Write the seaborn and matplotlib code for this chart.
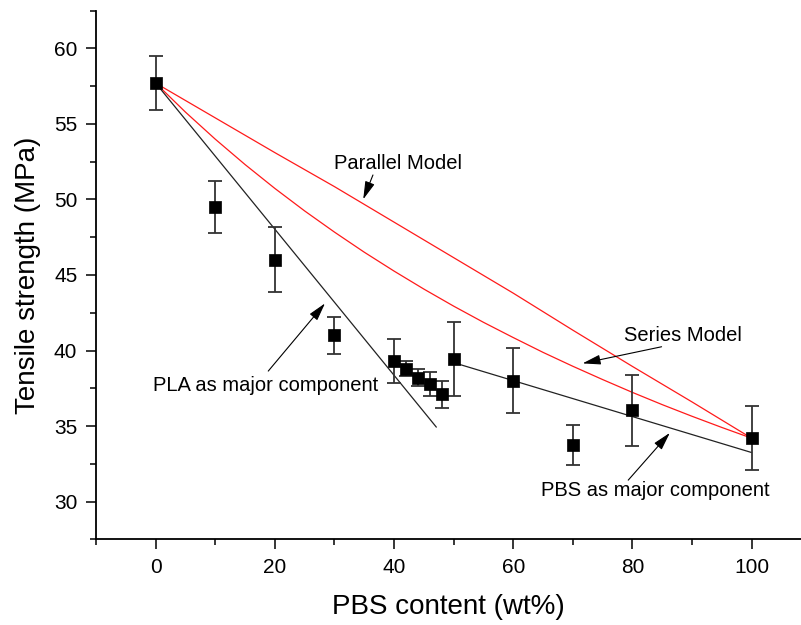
import matplotlib
matplotlib.use("Agg")
import matplotlib.pyplot as plt
import seaborn as sns
import pandas as pd

# ---- data ----
pbs_content = [0, 10, 20, 30, 40, 42, 44, 46, 48, 50, 60, 70, 80, 100]
tensile = [57.7, 49.5, 46.0, 41.0, 39.3, 38.8, 38.2, 37.8, 37.1, 39.45, 38.0, 33.75, 36.05, 34.2]
tensile_err = [1.8, 1.7, 2.15, 1.25, 1.45, 0.5, 0.55, 0.8, 0.9, 2.45, 2.15, 1.3, 2.35, 2.1]

parallel_x = [0, 10, 20, 30, 40, 50, 60, 70, 80, 90, 100]
parallel_y = [57.7, 55.4, 53.1, 50.85, 48.5, 46.15, 43.8, 41.35, 38.95, 36.6, 34.2]

series_x = [0, 5, 10, 15, 20, 25, 30, 35, 40, 45, 50, 55, 60, 65, 70, 75, 80, 85, 90, 95, 100]
series_y = [57.7, 55.78, 53.99, 52.31, 50.73, 49.24, 47.84, 46.51, 45.26, 44.07, 42.94,
            41.87, 40.86, 39.88, 38.96, 38.08, 37.23, 36.42, 35.65, 34.91, 34.2]

pla_major_x = [0, 47.1]
pla_major_y = [57.7, 34.93]
pbs_major_x = [50, 100]
pbs_major_y = [39.2, 33.25]

x_ticks = [0, 20, 40, 60, 80, 100]
y_ticks = [30, 35, 40, 45, 50, 55, 60]

sns.set_style("ticks")
plt.rcParams['font.family'] = ['Liberation Sans', 'DejaVu Sans']
plt.rcParams['text.color'] = 'black'
plt.rcParams['axes.labelcolor'] = 'black'
plt.rcParams['xtick.color'] = 'black'
plt.rcParams['ytick.color'] = 'black'

fig = plt.figure(figsize=(8.01, 6.25), dpi=100)
ax = fig.add_axes([0.12, 0.137, 0.88, 0.846])

df_par = pd.DataFrame({"x": parallel_x, "y": parallel_y})
df_ser = pd.DataFrame({"x": series_x, "y": series_y})
df_pla = pd.DataFrame({"x": pla_major_x, "y": pla_major_y})
df_pbs = pd.DataFrame({"x": pbs_major_x, "y": pbs_major_y})
df_pts = pd.DataFrame({"x": pbs_content, "y": tensile, "e": tensile_err})

sns.lineplot(data=df_par, x="x", y="y", ax=ax, color="#ff1a1a", lw=0.9, sort=False, estimator=None)
sns.lineplot(data=df_ser, x="x", y="y", ax=ax, color="#ff1a1a", lw=0.9, sort=False, estimator=None)
sns.lineplot(data=df_pla, x="x", y="y", ax=ax, color="#222222", lw=0.9, sort=False, estimator=None)
sns.lineplot(data=df_pbs, x="x", y="y", ax=ax, color="#222222", lw=0.9, sort=False, estimator=None)

ax.errorbar(df_pts["x"], df_pts["y"], yerr=df_pts["e"], fmt="none", ecolor="#333333",
            elinewidth=1.3, capsize=5, capthick=1.3, zorder=3)
sns.scatterplot(data=df_pts, x="x", y="y", ax=ax, marker="s", s=75, color="black",
                edgecolor="black", linewidth=0.5, zorder=4)

ax.set_xlim(-10, 108.3)
ax.set_ylim(27.5, 62.5)
ax.set_xticks(x_ticks)
ax.set_yticks(y_ticks)
ax.set_xticks([-10, 10, 30, 50, 70, 90], minor=True)
ax.set_yticks([27.5, 32.5, 37.5, 42.5, 47.5, 52.5, 57.5, 62.5], minor=True)
ax.tick_params(axis="both", which="major", length=7.5, width=1.1, labelsize=15, pad=6,
               color="black", labelcolor="black")
ax.tick_params(axis="both", which="minor", length=4.3, width=1.1, color="black")
for s in ["left", "bottom"]:
    ax.spines[s].set_linewidth(1.3)
    ax.spines[s].set_color("black")
sns.despine(ax=ax)

ax.set_xlabel("PBS content (wt%)", fontsize=20, labelpad=12, color="black")
ax.set_ylabel("Tensile strength (MPa)", fontsize=20, labelpad=9, color="black")

# annotations
fs = 14.5
ax.text(40.65, 52.41, "Parallel Model", fontsize=fs, ha="center", va="center", color="black")
ax.text(88.56, 41.02, "Series Model", fontsize=fs, ha="center", va="center", color="black")
ax.text(18.42, 37.71, "PLA as major component", fontsize=fs, ha="center", va="center", color="black")
ax.text(83.83, 30.76, "PBS as major component", fontsize=fs, ha="center", va="center", color="black")

arrow = dict(arrowstyle="-|>,head_length=1.1,head_width=0.3", color="black", lw=0.8,
             shrinkA=0, shrinkB=0)
ax.annotate("", xy=(34.83, 50.01), xytext=(36.46, 51.62), arrowprops=arrow)
ax.annotate("", xy=(71.64, 39.15), xytext=(84.9, 40.25), arrowprops=arrow)
ax.annotate("", xy=(28.41, 43.12), xytext=(18.89, 38.64), arrowprops=arrow)
ax.annotate("", xy=(86.29, 34.55), xytext=(79.3, 31.42), arrowprops=arrow)

fig.savefig("out.png", dpi=100)
